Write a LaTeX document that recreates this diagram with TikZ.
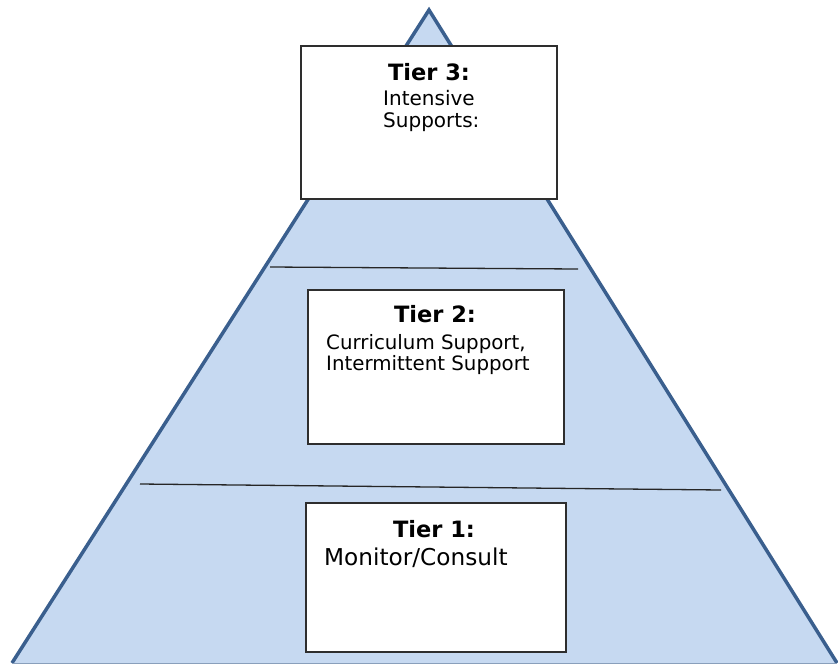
\documentclass[tikz,border=0pt]{standalone}
\usepackage{fontspec}
\setmainfont{DejaVu Sans}
\definecolor{pyrfill}{HTML}{C6D9F1}
\definecolor{pyredge}{HTML}{3A5F8E}
\definecolor{boxedge}{HTML}{2E2E2E}
\tikzset{
  tierbox/.style={draw=boxedge,line width=1.5pt,fill=white,inner sep=0pt},
  tierhead/.style={anchor=base,inner sep=0pt,font=\fontsize{22.5}{26}\selectfont\bfseries},
  tiertext/.style={anchor=base west,inner sep=0pt,font=\fontsize{19.8}{22}\selectfont}
}
\begin{document}
\begin{tikzpicture}[x=1pt,y=-1pt]
  \useasboundingbox (0,0) rectangle (838,664);
  % Pyramid
  \fill[pyrfill] (429,10) -- (12,663) -- (837,663) -- cycle;
  \draw[pyredge,line width=3.5pt,line join=miter] (12,663) -- (429,10) -- (837,663);
  \draw[pyredge!60,line width=1pt] (12,663) -- (837,663);
  % Tier dividers
  \draw[black!85,line width=1.3pt] (270,267) -- (578,269);
  \draw[black!85,line width=1.3pt] (140,484) -- (721,490);
  % Tier 3
  \node[tierbox,minimum width=256,minimum height=153] (tier3) at (429,122.5) {};
  \node[tierhead] (head3) at (429,80) {Tier 3:};
  \node[tiertext,font=\fontsize{20}{22}\selectfont] (text3a) at (383,105) {Intensive};
  \node[tiertext,font=\fontsize{20}{22}\selectfont] (text3b) at (383,127) {Supports:};
  % Tier 2
  \node[tierbox,minimum width=256,minimum height=154] (tier2) at (436,367) {};
  \node[tierhead] (head2) at (435,322) {Tier 2:};
  \node[tiertext] (text2a) at (326,349) {Curriculum Support,};
  \node[tiertext] (text2b) at (326,370) {Intermittent Support};
  % Tier 1
  \node[tierbox,minimum width=260,minimum height=149] (tier1) at (436,577.5) {};
  \node[tierhead] (head1) at (434,537) {Tier 1:};
  \node[tiertext,font=\fontsize{23.2}{26}\selectfont] (text1) at (324,565) {Monitor/Consult};
\end{tikzpicture}
\end{document}
